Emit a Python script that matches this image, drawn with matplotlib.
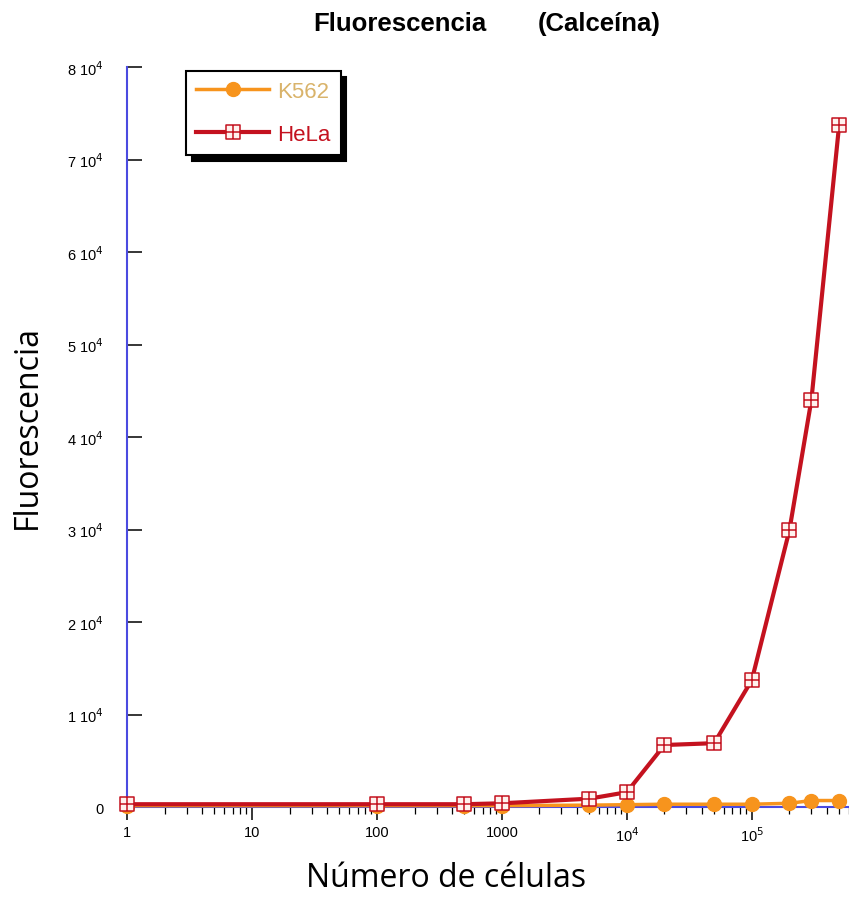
import matplotlib
matplotlib.use("Agg")
import matplotlib.pyplot as plt
import matplotlib.path as mpath

# cell counts and fluorescence readings
cells = [1, 100, 500, 1000, 5000, 1e4, 2e4, 5e4, 1e5, 2e5, 3e5, 5e5]
k562 = [150, 150, 150, 150, 200, 250, 300, 300, 300, 400, 700, 700]
hela = [300, 300, 300, 400, 900, 1600, 6700, 6900, 13700, 29900, 44000, 73700]

y_ticks = [0, 1e4, 2e4, 3e4, 4e4, 5e4, 6e4, 7e4, 8e4]
y_labels = ["0"] + [f"{i} 10$^4$" for i in range(1, 9)]
x_ticks = [1, 10, 100, 1000, 1e4, 1e5]
x_labels = ["1", "10", "100", "1000", "10$^4$", "10$^5$"]

ORANGE = "#F7941D"
RED = "#C4121F"
BLUE = "#4B4BE0"
W, H = 849, 903

plt.rcParams["font.family"] = ["Liberation Sans", "DejaVu Sans"]

# square with a cross inside
verts = [(-1, -1), (1, -1), (1, 1), (-1, 1), (-1, -1),
         (0, -1), (0, 1), (-1, 0), (1, 0)]
codes = [mpath.Path.MOVETO, mpath.Path.LINETO, mpath.Path.LINETO,
         mpath.Path.LINETO, mpath.Path.CLOSEPOLY,
         mpath.Path.MOVETO, mpath.Path.LINETO,
         mpath.Path.MOVETO, mpath.Path.LINETO]
box_cross = mpath.Path(verts, codes)

fig = plt.figure(figsize=(W / 100, H / 100), dpi=100)
ax = fig.add_axes([127 / W, 1 - 808 / H, 1 - 127 / W, (808 - 68) / H])

ax.plot(cells, k562, color=ORANGE, lw=2.5, marker="o", ms=10,
        mfc=ORANGE, mec=ORANGE, label="K562", clip_on=False, zorder=3)
ax.plot(cells, hela, color=RED, lw=3, marker=box_cross, ms=9.5,
        mfc="#FFF2EE", mec=RED, mew=1.1, label="HeLa", clip_on=False, zorder=4)

ax.set_xscale("log")
ax.set_xlim(1, 6e5)
ax.set_ylim(0, 8e4)

ax.set_yticks(y_ticks)
ax.set_yticklabels(y_labels)
ax.set_xticks(x_ticks)
ax.set_xticklabels(x_labels)

for side in ["top", "right"]:
    ax.spines[side].set_visible(False)
for side in ["left", "bottom"]:
    ax.spines[side].set_color(BLUE)
    ax.spines[side].set_linewidth(1.5)

ax.tick_params(axis="y", direction="in", length=11, width=1.1, labelsize=10.5, pad=17)
ax.tick_params(axis="x", which="major", direction="out", length=9, width=1.1,
               labelsize=10.5, pad=4)
ax.tick_params(axis="x", which="minor", direction="out", length=5, width=0.9)

label_font = ["Open Sans", "DejaVu Sans"]
fig.text(27 / W, 1 - 427 / H, "Fluorescencia", rotation=90, ha="center", va="center",
         fontsize=23, family=label_font)
fig.text(446 / W, 1 - 887 / H, "Número de células", ha="center", va="baseline",
         fontsize=23, family=label_font)

fig.text(313 / W, 1 - 24 / H, "Fluorescencia", ha="left", va="center",
         fontsize=18.5, fontweight="bold")
fig.text(538 / W, 1 - 24 / H, "(Calceína)", ha="left", va="center",
         fontsize=18.5, fontweight="bold")

leg = ax.legend(loc="upper left", bbox_to_anchor=((186 - 127) / 722, (808 - 72) / 740),
                borderaxespad=0, fancybox=False, edgecolor="black", framealpha=1,
                fontsize=16, handlelength=3.3, handletextpad=0.36, borderpad=0.45,
                labelspacing=1.0,
                shadow={"ox": 4, "oy": -4, "color": "black", "alpha": 1})
leg.get_frame().set_linewidth(1.5)
leg.get_texts()[0].set_color("#D9B36A")
leg.get_texts()[1].set_color(RED)

fig.savefig("out.png", dpi=100)
